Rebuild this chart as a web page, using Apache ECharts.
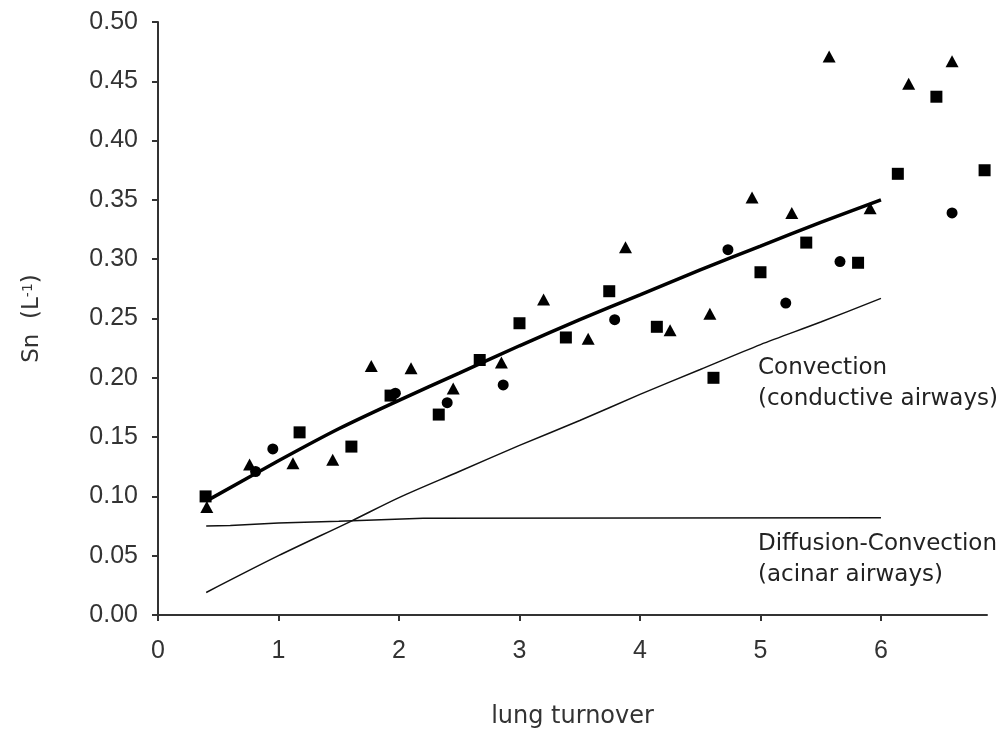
<!DOCTYPE html>
<html>
<head>
<meta charset="utf-8">
<script src="https://cdn.jsdelivr.net/npm/echarts@6/dist/echarts.min.js"></script>
<style>
  html, body { margin: 0; padding: 0; background: #fff; }
  #chart { width: 1004px; height: 738px; }
</style>
</head>
<body>
<div id="chart"></div>
<script>
// measured points, [lung turnover, Sn]
var triangles = [
  [0.405, 0.091], [0.76, 0.127], [1.12, 0.128], [1.45, 0.131], [1.77, 0.210],
  [2.10, 0.208], [2.45, 0.191], [2.85, 0.213], [3.20, 0.266], [3.57, 0.233],
  [3.88, 0.310], [4.25, 0.240], [4.58, 0.254], [4.93, 0.352], [5.26, 0.339],
  [5.57, 0.471], [5.91, 0.343], [6.23, 0.448], [6.59, 0.467]
];
var squares = [
  [0.395, 0.100], [1.175, 0.154], [1.605, 0.142], [1.93, 0.185], [2.33, 0.169],
  [2.67, 0.215], [3.00, 0.246], [3.385, 0.234], [3.745, 0.273], [4.14, 0.243],
  [4.61, 0.200], [5.00, 0.289], [5.38, 0.314], [5.81, 0.297], [6.14, 0.372],
  [6.46, 0.437], [6.86, 0.375]
];
var circles = [
  [0.81, 0.121], [0.953, 0.140], [1.97, 0.187], [2.40, 0.179], [2.865, 0.194],
  [3.79, 0.249], [4.73, 0.308], [5.21, 0.263], [5.66, 0.298], [6.59, 0.339]
];
// fitted / model curves
var fitLine = [
  [0.4, 0.096], [1, 0.130], [1.5, 0.157], [2, 0.181], [2.5, 0.204], [3, 0.227],
  [3.5, 0.249], [4, 0.270], [4.5, 0.291], [5, 0.311], [5.5, 0.331], [6, 0.350]
];
var convection = [
  [0.4, 0.019], [1, 0.050], [1.6, 0.079], [2, 0.099], [2.5, 0.121], [3, 0.143],
  [3.5, 0.164], [4, 0.186], [4.5, 0.207], [5, 0.228], [5.5, 0.247], [6, 0.267]
];
var diffusion = [
  [0.4, 0.075], [0.6, 0.0755], [1, 0.0775], [1.5, 0.079], [2.2, 0.0815], [6, 0.082]
];
var xTicks = [0, 1, 2, 3, 4, 5, 6];

var myChart = echarts.init(document.getElementById('chart'));

var tickFont = 'Liberation Sans, Arial, sans-serif';
var noteFont = 'DejaVu Sans, Tahoma, sans-serif';

var option = {
    animation: false,
    backgroundColor: '#fff',
    grid: { left: 158, right: 17, top: 22, bottom: 123, outerBoundsMode: 'none' },
    xAxis: {
        type: 'value',
        min: 0,
        max: 6.88,
        interval: 1,
        name: 'lung turnover',
        nameLocation: 'middle',
        nameGap: 90,
        nameTextStyle: { fontFamily: noteFont, fontSize: 24, color: '#333' },
        splitLine: { show: false },
        axisLine: { lineStyle: { color: '#333', width: 2 } },
        axisTick: { length: 6, lineStyle: { color: '#333', width: 2 }, customValues: xTicks },
        axisLabel: { fontFamily: tickFont, fontSize: 25, color: '#333', margin: 24, customValues: xTicks }
    },
    yAxis: {
        type: 'value',
        min: 0,
        max: 0.5,
        interval: 0.05,
        name: '{a|Sn  (L}{s|-1}{a|)}',
        nameLocation: 'middle',
        nameGap: 114,
        nameRotate: 90,
        nameTextStyle: {
            rich: {
                a: { fontFamily: noteFont, fontSize: 23, color: '#333' },
                s: { fontFamily: noteFont, fontSize: 14, color: '#333', verticalAlign: 'top', padding: [0, 0, 9, 0] }
            }
        },
        splitLine: { show: false },
        axisLine: { lineStyle: { color: '#333', width: 2 } },
        axisTick: { length: 6, lineStyle: { color: '#333', width: 2 } },
        axisLabel: {
            fontFamily: tickFont, fontSize: 25, color: '#333', margin: 20,
            formatter: function (v) { return v.toFixed(2); }
        }
    },
    graphic: [
        { type: 'text', left: 758, top: 353, style: { text: 'Convection\n(conductive airways)', font: '23px ' + noteFont, fill: '#222', lineHeight: 31 } },
        { type: 'text', left: 758, top: 529, style: { text: 'Diffusion-Convection\n(acinar airways)', font: '23px ' + noteFont, fill: '#222', lineHeight: 31 } }
    ],
    series: [
        { name: 'diffusion', type: 'line', data: diffusion, symbol: 'none',
          lineStyle: { color: '#111', width: 1.5 }, z: 2 },
        { name: 'convection', type: 'line', data: convection, symbol: 'none', smooth: 0.3,
          lineStyle: { color: '#111', width: 1.5 }, z: 2 },
        { name: 'fit', type: 'line', data: fitLine, symbol: 'none', smooth: 0.3,
          lineStyle: { color: '#000', width: 3.5 }, z: 3 },
        { name: 'triangles', type: 'scatter', data: triangles, symbol: 'triangle', symbolSize: [13, 12],
          itemStyle: { color: '#000', opacity: 1 }, z: 4 },
        { name: 'squares', type: 'scatter', data: squares, symbol: 'rect', symbolSize: 12,
          itemStyle: { color: '#000', opacity: 1 }, z: 4 },
        { name: 'circles', type: 'scatter', data: circles, symbol: 'circle', symbolSize: 11,
          itemStyle: { color: '#000', opacity: 1 }, z: 4 }
    ]
};

if (option)
    myChart.setOption(option);
</script>
</body>
</html>
